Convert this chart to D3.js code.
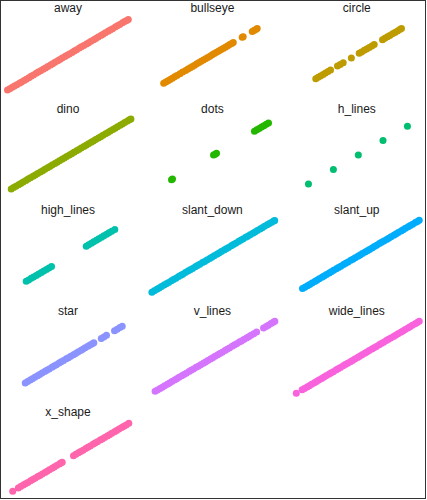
<!DOCTYPE html>
<html>
<head>
<meta charset="utf-8">
<script src="https://cdn.jsdelivr.net/npm/d3@7"></script>
<style>
  html, body { margin: 0; padding: 0; background: #ffffff; }
  svg { display: block; }
</style>
</head>
<body>
<script>
// ---------- data ----------
const categories = ["away", "bullseye", "circle", "dino", "dots", "h_lines",
  "high_lines", "slant_down", "slant_up", "star", "v_lines", "wide_lines", "x_shape"];

const colors = ["#F8766D", "#E18A00", "#BE9C00", "#8CAB00", "#24B700", "#00BE70",
  "#00C1AB", "#00BBDA", "#00ACFC", "#8B93FF", "#D575FE", "#F962DD", "#FF65AC"];

const away = [0.0, 1.8, 3.9, 5.6, 7.5, 9.6, 11.3, 13.4, 15.1, 17.2, 19.0, 20.9, 23.1, 24.8,
  26.7, 28.8, 30.6, 32.5, 34.7, 36.4, 38.3, 40.5, 42.2, 44.1, 46.3, 48.0, 49.9, 52.0, 53.8,
  55.7, 57.9, 59.6, 61.5, 63.7, 65.4, 67.3, 69.5, 71.2, 73.1, 75.3, 77.0, 78.9, 81.1, 82.8,
  84.7, 86.9, 88.6, 90.5, 92.7, 94.4, 96.1, 97.4];
const bullseye = [9.5, 11.2, 13.0, 14.7, 16.5, 18.3, 20.2, 22.6, 24.8, 27.2, 29.1, 30.9,
  32.7, 34.4, 36.2, 38.0, 39.7, 41.5, 43.3, 45.0, 46.8, 48.6, 50.3, 52.1, 53.9, 55.6, 57.4,
  59.2, 60.9, 62.7, 64.3, 65.6, 72.8, 73.6, 80.9, 82.3, 83.7, 84.9];
const circle = [15.7, 17.6, 19.5, 21.6, 23.5, 25.6, 27.6, 33.2, 35.4, 37.8, 44.4, 50.7,
  52.6, 54.8, 56.7, 58.8, 60.9, 62.8, 69.5, 71.4, 73.5, 75.4, 77.6, 79.5, 81.6, 83.4, 84.8];
const dino = [3.0, 4.9, 6.8, 8.9, 10.7, 12.6, 14.8, 16.6, 18.5, 20.6, 22.4, 24.3, 26.5,
  28.3, 30.2, 32.3, 34.1, 36.0, 38.2, 40.0, 41.9, 44.0, 45.8, 47.7, 49.9, 51.7, 53.6, 55.7,
  57.5, 59.4, 61.6, 63.4, 65.3, 67.4, 69.2, 71.1, 73.3, 75.1, 77.0, 79.1, 80.9, 82.8, 85.0,
  86.8, 88.7, 90.8, 92.6, 94.5, 96.7, 98.3, 99.5];
const dots = [15.8, 16.6, 49.7, 50.9, 52.1, 82.7, 84.6, 86.5, 88.4, 90.3, 92.2, 94.0];
const h_lines = [9.8, 29.9, 50.0, 69.9, 89.6];
const high_lines = [15.1, 17.0, 19.1, 21.0, 23.2, 25.1, 27.3, 29.2, 31.4, 33.4, 35.5,
  63.5, 65.4, 67.6, 69.5, 71.7, 73.6, 75.8, 77.7, 79.9, 81.8, 84.0, 86.5];
const slant_down = [0.0, 1.9, 4.0, 5.8, 7.7, 9.8, 11.6, 13.5, 15.7, 17.4, 19.4, 21.5, 23.3,
  24.9, 27.0, 29.1, 30.9, 32.8, 35.0, 36.7, 38.6, 40.8, 42.5, 44.4, 46.6, 48.3, 50.2, 52.4,
  54.1, 56.0, 58.2, 59.9, 61.8, 64.0, 65.7, 67.6, 69.8, 71.5, 73.4, 75.6, 77.3, 79.2, 81.4,
  83.1, 85.0, 87.2, 88.9, 90.8, 93.0, 94.7, 96.6, 98.2, 99.0];
const slant_up = [5.0, 6.9, 9.0, 10.8, 12.7, 14.9, 16.6, 18.5, 20.7, 22.4, 24.3, 26.5, 28.2,
  30.1, 32.3, 34.0, 35.9, 38.1, 39.8, 41.7, 43.9, 45.6, 47.5, 49.7, 51.4, 53.3, 55.5, 57.3,
  59.0, 61.1, 62.9, 64.8, 67.0, 68.7, 70.6, 72.8, 74.5, 76.4, 78.6, 80.3, 82.2, 84.4, 86.1,
  88.0, 90.2, 91.9, 93.8, 96.0, 97.6, 99.1];
const star = [14.3, 16.2, 18.3, 20.1, 22.0, 24.2, 25.9, 27.8, 30.0, 31.7, 33.6, 35.8, 37.5,
  39.4, 41.6, 43.3, 45.2, 47.4, 49.1, 51.0, 53.2, 54.9, 56.8, 59.0, 60.7, 62.6, 64.8, 66.5,
  68.4, 69.6, 75.6, 77.7, 79.8, 86.3, 88.4, 90.6, 92.5];
const v_lines = [2.6, 4.5, 6.6, 8.4, 10.3, 12.5, 14.2, 16.1, 18.3, 20.0, 21.9, 24.1, 25.8,
  27.7, 29.9, 31.6, 33.5, 35.7, 37.4, 39.3, 41.5, 43.2, 45.1, 47.3, 49.0, 50.9, 53.1, 54.8,
  56.7, 58.9, 60.6, 62.5, 64.7, 66.4, 68.3, 70.5, 72.2, 74.1, 76.3, 78.0, 79.9, 82.1, 84.4,
  90.0, 92.1, 93.9, 96.0, 97.8, 99.1];
const wide_lines = [0.0, 4.7, 6.6, 8.7, 10.5, 12.4, 14.6, 16.3, 18.2, 20.4, 22.1, 24.0,
  26.2, 27.9, 29.8, 32.0, 33.7, 35.6, 37.8, 39.5, 41.4, 43.6, 45.3, 47.2, 49.4, 51.1, 53.0,
  55.2, 56.9, 58.8, 61.0, 62.7, 64.6, 66.8, 68.5, 70.4, 72.6, 74.3, 76.2, 78.4, 80.1, 82.0,
  84.2, 85.9, 87.8, 90.0, 91.7, 93.6, 95.8, 97.5, 99.1];
const x_shape = [4.2, 8.7, 10.6, 12.7, 14.5, 16.4, 18.6, 20.3, 22.2, 24.4, 26.1, 28.0, 30.2,
  31.9, 33.8, 36.0, 37.7, 39.6, 41.8, 43.0, 44.1, 53.2, 55.1, 57.2, 59.0, 60.9, 63.1, 64.8,
  66.7, 68.9, 70.6, 72.5, 74.7, 76.4, 78.3, 80.5, 82.2, 84.1, 86.3, 88.0, 89.9, 92.1, 93.8,
  95.7, 97.8];

const seriesValues = [away, bullseye, circle, dino, dots, h_lines, high_lines,
  slant_down, slant_up, star, v_lines, wide_lines, x_shape];

const valueDomain = [-6.05, 103.6];

// ---------- layout ----------
const W = 427, H = 500;
const nCols = 3;
const colPitch = 144.4, rowPitch = 101.05;
const panelW = 136;
const panelTop = 14.95, panelBottom = 94.5;
const radius = 3.5;

const svg = d3.select("body").append("svg")
  .attr("width", W).attr("height", H);

svg.append("rect").attr("x", 0).attr("y", 0).attr("width", W).attr("height", H)
  .attr("fill", "#ffffff");

categories.forEach((name, i) => {
  const col = i % nCols, row = Math.floor(i / nCols);
  const left = col * colPitch, top = row * rowPitch;

  const x = d3.scaleLinear().domain(valueDomain).range([left, left + panelW]);
  const y = d3.scaleLinear().domain(valueDomain).range([top + panelBottom, top + panelTop]);

  const g = svg.append("g").attr("class", "panel");

  g.append("text")
    .attr("x", left + panelW / 2)
    .attr("y", top + 12)
    .attr("text-anchor", "middle")
    .attr("font-family", "'Liberation Sans', Arial, Helvetica, sans-serif")
    .attr("font-size", 12)
    .attr("fill", "#1a1a1a")
    .text(name);

  g.selectAll("circle")
    .data(seriesValues[i])
    .join("circle")
    .attr("cx", d => x(d))
    .attr("cy", d => y(d))
    .attr("r", radius)
    .attr("fill", colors[i]);
});

// outer frame
svg.append("rect")
  .attr("x", 0.5).attr("y", 0.5)
  .attr("width", 425).attr("height", 498)
  .attr("fill", "none")
  .attr("stroke", "#333333")
  .attr("stroke-width", 1);
</script>
</body>
</html>
